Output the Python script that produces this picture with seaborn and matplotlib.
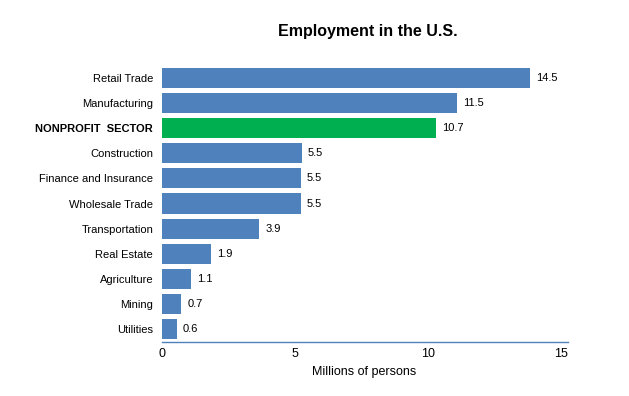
import pandas as pd
import matplotlib.pyplot as plt
import seaborn as sns

# Dados do gráfico (comprimento das barras lido no eixo; rótulos como aparecem)
sectors = [
    "Retail Trade", "Manufacturing", "NONPROFIT  SECTOR", "Construction",
    "Finance and Insurance", "Wholesale Trade", "Transportation",
    "Real Estate", "Agriculture", "Mining", "Utilities",
]
employment = [13.82, 11.07, 10.29, 5.26, 5.22, 5.22, 3.66, 1.86, 1.09, 0.73, 0.57]
value_labels = ["14.5", "11.5", "10.7", "5.5", "5.5", "5.5", "3.9", "1.9", "1.1", "0.7", "0.6"]
highlight = "NONPROFIT  SECTOR"

data = pd.DataFrame({"sector": sectors, "millions": employment})

sns.set_style("white")
plt.rcParams['font.family'] = ['Liberation Sans', 'DejaVu Sans']
plt.rcParams['text.color'] = 'black'
plt.rcParams['axes.labelcolor'] = 'black'
plt.rcParams['xtick.color'] = 'black'
plt.rcParams['ytick.color'] = 'black'

fig = plt.figure(figsize=(6.29, 3.96), dpi=100)
ax = fig.add_axes([0.2568, 0.1364, 0.6455, 0.6975])

palette = ["#00B050" if s == highlight else "#4F81BD" for s in sectors]
sns.barplot(data=data, x="millions", y="sector", hue="sector", palette=palette,
            legend=False, width=0.8, saturation=1, linewidth=0, ax=ax)

# Rótulos de valor
for i, (v, lab) in enumerate(zip(employment, value_labels)):
    ax.annotate(lab, xy=(v, i), xytext=(4.5, 0), textcoords="offset points",
                va="center", ha="left", fontsize=8, color="black")

ax.set_xlim(0, 15.23)
ax.set_ylim(10.53, -0.5)
ax.set_xticks([0, 5, 10, 15])
ax.tick_params(axis="both", length=0)
ax.tick_params(axis="x", labelsize=9, pad=4)
ax.tick_params(axis="y", labelsize=8, pad=6)
for lbl in ax.get_yticklabels():
    if lbl.get_text() == highlight:
        lbl.set_fontweight("bold")

for side in ["top", "right", "left"]:
    ax.spines[side].set_visible(False)
ax.spines["bottom"].set_color("#4F81BD")
ax.spines["bottom"].set_linewidth(1)

ax.set_xlabel("Millions of persons", fontsize=9, labelpad=5)
ax.set_ylabel("")
fig.text(0.584, 0.92, "Employment in the U.S.", ha="center", va="center",
         fontsize=11.5, fontweight="bold", color="black")

plt.savefig("out.png", dpi=100)
plt.close()
